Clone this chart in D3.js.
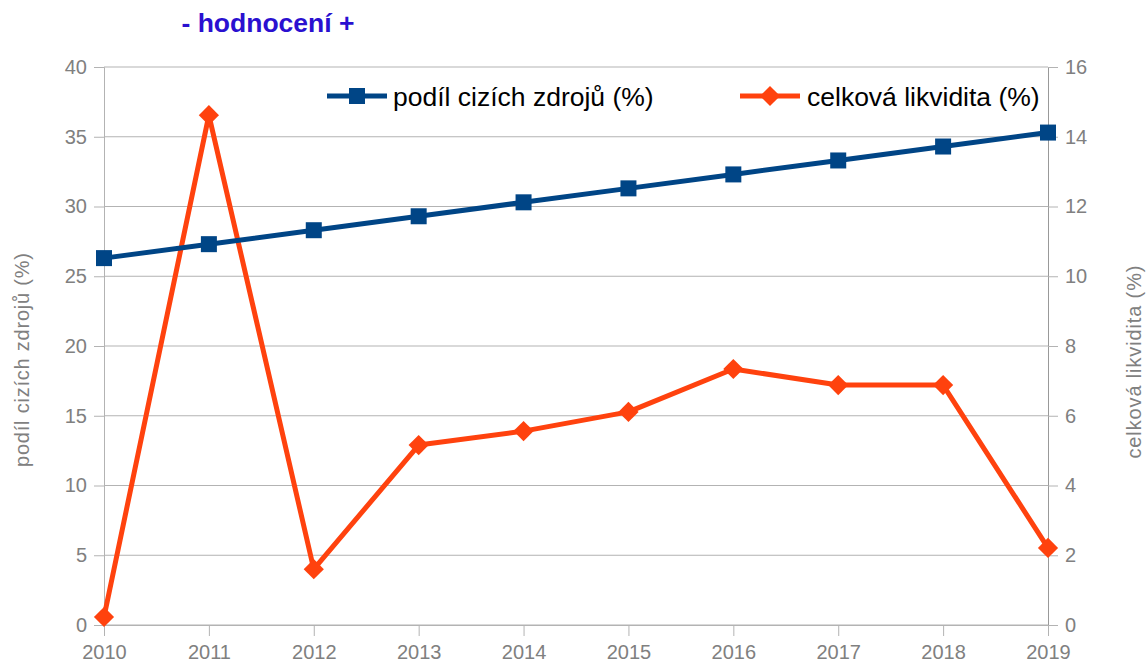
<!DOCTYPE html>
<html>
<head>
<meta charset="utf-8">
<script src="https://cdn.jsdelivr.net/npm/d3@7"></script>
<style>
  body { margin: 0; background: #fff; }
  text { font-family: "Liberation Sans", Arial, sans-serif; }
</style>
</head>
<body>
<div id="main"></div>
<script>
const ctx = {
    w: 1147,
    h: 666,
};

const years = [2010, 2011, 2012, 2013, 2014, 2015, 2016, 2017, 2018, 2019];
const podilCizichZdroju = [26.3, 27.3, 28.3, 29.3, 30.3, 31.3, 32.3, 33.3, 34.3, 35.3];
const celkovaLikvidita = [0.23, 14.62, 1.6, 5.16, 5.56, 6.11, 7.34, 6.88, 6.88, 2.21];
const leftTicks = [0, 5, 10, 15, 20, 25, 30, 35, 40];
const rightTicks = [0, 2, 4, 6, 8, 10, 12, 14, 16];

const blue = "#004586";
const orange = "#ff420e";
const grid = "#b3b3b3";
const labelGray = "#808080";

function createViz() {
    let svgEl = d3.select("#main").append("svg")
        .attr("width", ctx.w)
        .attr("height", ctx.h);

    const left = 104, right = 1048, top = 67, bottom = 625;

    const x = d3.scalePoint().domain(years).range([left, right]);
    const yL = d3.scaleLinear().domain([0, 40]).range([bottom, top]);
    const yR = d3.scaleLinear().domain([0, 16]).range([bottom, top]);

    // horizontal grid
    svgEl.append("g").selectAll("line")
        .data(leftTicks)
        .enter().append("line")
        .attr("x1", left).attr("x2", right)
        .attr("y1", d => yL(d)).attr("y2", d => yL(d))
        .style("stroke", grid).style("stroke-width", 1);

    // axes
    const gL = svgEl.append("g").attr("transform", `translate(${left},0)`)
        .call(d3.axisLeft(yL).tickValues(leftTicks).tickSize(10).tickPadding(7));
    const gR = svgEl.append("g").attr("transform", `translate(${right},0)`)
        .call(d3.axisRight(yR).tickValues(rightTicks).tickSize(10).tickPadding(7));
    const gB = svgEl.append("g").attr("transform", `translate(0,${bottom})`)
        .call(d3.axisBottom(x).tickSize(11).tickPadding(9).tickFormat(d3.format("d")));

    [gL, gR, gB].forEach(g => {
        g.select(".domain").style("stroke", grid);
        g.selectAll(".tick line").style("stroke", grid);
        g.selectAll(".tick text")
            .style("font-family", "'Liberation Sans', Arial, sans-serif")
            .style("font-size", "20px")
            .style("fill", labelGray);
    });
    gR.select(".domain").style("stroke", "#999");

    // axis titles
    svgEl.append("text")
        .attr("transform", "translate(29,360) rotate(-90)")
        .attr("text-anchor", "middle")
        .attr("textLength", 214)
        .attr("lengthAdjust", "spacing")
        .style("font-size", "20px")
        .style("fill", labelGray)
        .text("podíl cizích zdrojů (%)");

    svgEl.append("text")
        .attr("transform", "translate(1141,362) rotate(-90)")
        .attr("text-anchor", "middle")
        .attr("textLength", 193)
        .attr("lengthAdjust", "spacing")
        .style("font-size", "20px")
        .style("fill", labelGray)
        .text("celková likvidita (%)");

    // title
    svgEl.append("text")
        .attr("x", 268)
        .attr("y", 32)
        .attr("text-anchor", "middle")
        .style("font-size", "26.5px")
        .style("font-weight", "bold")
        .style("fill", "#2a10d0")
        .text("- hodnocení +");

    const blueData = years.map((yr, i) => ({year: yr, v: podilCizichZdroju[i]}));
    const orangeData = years.map((yr, i) => ({year: yr, v: celkovaLikvidita[i]}));

    // orange line
    svgEl.append("path")
        .datum(orangeData)
        .attr("d", d3.line().x(d => x(d.year)).y(d => yR(d.v)))
        .style("fill", "none")
        .style("stroke", orange)
        .style("stroke-width", 5)
        .style("stroke-linejoin", "round");

    // blue line
    svgEl.append("path")
        .datum(blueData)
        .attr("d", d3.line().x(d => x(d.year)).y(d => yL(d.v)))
        .style("fill", "none")
        .style("stroke", blue)
        .style("stroke-width", 5);

    const diamond = d3.symbol().type(d3.symbolDiamond2).size(260);
    svgEl.append("g").selectAll("path")
        .data(orangeData)
        .enter().append("path")
        .attr("d", diamond)
        .attr("transform", d => `translate(${x(d.year)},${yR(d.v)})`)
        .style("fill", orange);

    svgEl.append("g").selectAll("rect")
        .data(blueData)
        .enter().append("rect")
        .attr("x", d => x(d.year) - 8)
        .attr("y", d => yL(d.v) - 8)
        .attr("width", 16)
        .attr("height", 16)
        .style("fill", blue);

    // legend
    const legend = svgEl.append("g");
    legend.append("line")
        .attr("x1", 327).attr("x2", 387).attr("y1", 96).attr("y2", 96)
        .style("stroke", blue).style("stroke-width", 5);
    legend.append("rect")
        .attr("x", 349).attr("y", 88).attr("width", 16).attr("height", 16)
        .style("fill", blue);
    legend.append("text")
        .attr("x", 393).attr("y", 106)
        .style("font-size", "26.5px")
        .style("fill", "#000")
        .text("podíl cizích zdrojů (%)");

    legend.append("line")
        .attr("x1", 740).attr("x2", 800).attr("y1", 96).attr("y2", 96)
        .style("stroke", orange).style("stroke-width", 5);
    legend.append("path")
        .attr("d", diamond)
        .attr("transform", "translate(770,96)")
        .style("fill", orange);
    legend.append("text")
        .attr("x", 807).attr("y", 106)
        .style("font-size", "26.5px")
        .style("fill", "#000")
        .text("celková likvidita (%)");
}

createViz();
</script>
</body>
</html>
